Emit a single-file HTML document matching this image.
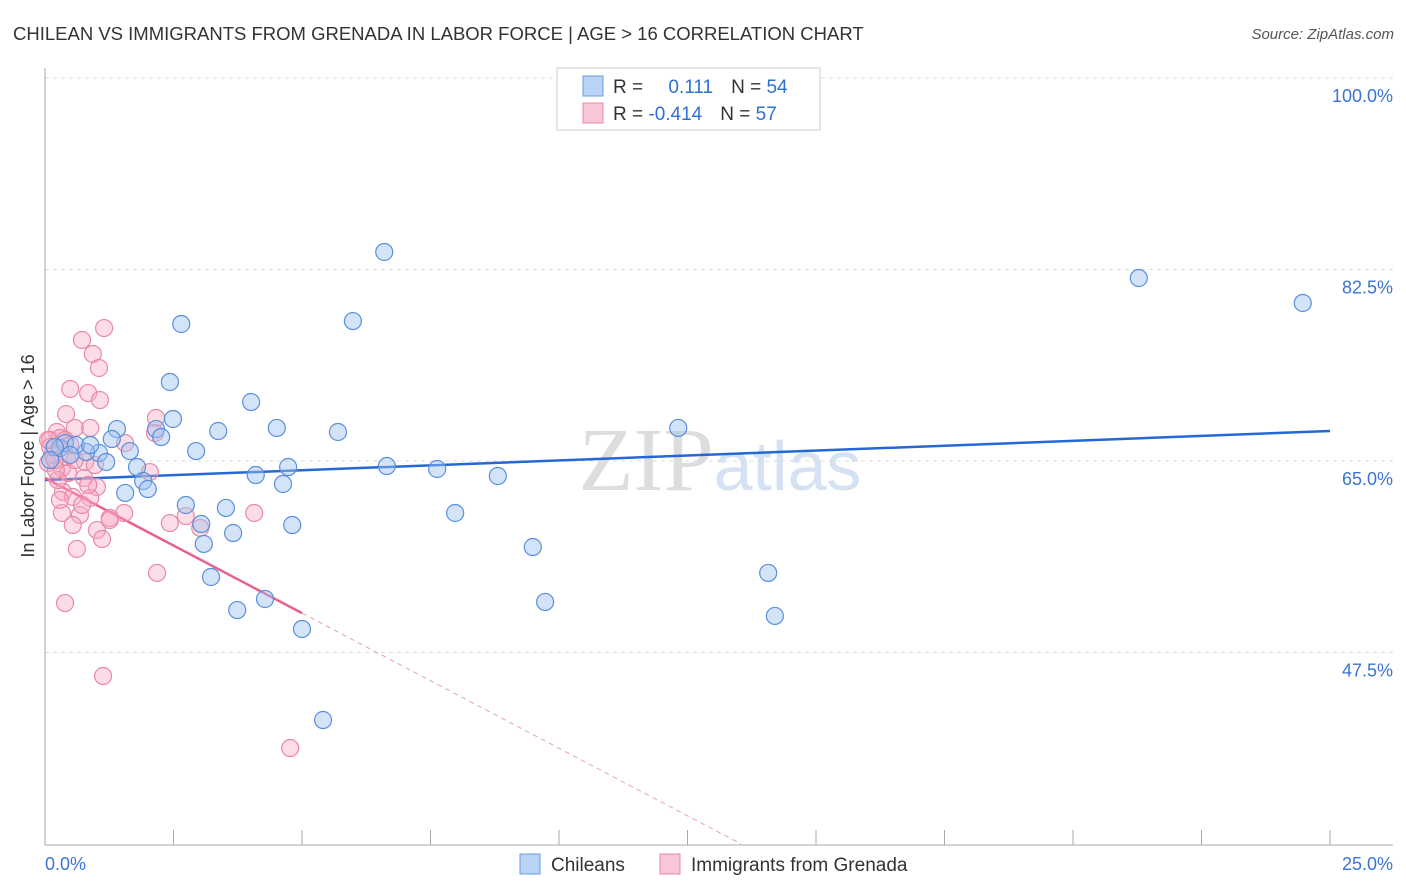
<!DOCTYPE html>
<html><head><meta charset="utf-8"><style>
body{margin:0;background:#fff;font-family:"Liberation Sans",sans-serif}
svg{display:block}
</style></head><body>
<svg id="chart" width="1406" height="892" xmlns="http://www.w3.org/2000/svg" font-family="Liberation Sans, sans-serif">
<text x="13" y="40" font-size="18.5" fill="#333">CHILEAN VS IMMIGRANTS FROM GRENADA IN LABOR FORCE | AGE &gt; 16 CORRELATION CHART</text>
<text x="1394" y="39" font-size="15" fill="#555" text-anchor="end" font-style="italic">Source: ZipAtlas.com</text>
<text x="720" y="490" font-size="90" fill="#ddd" text-anchor="middle" font-family="Liberation Serif, serif">ZIP<tspan fill="#d4e2f4" font-family="Liberation Sans, sans-serif" font-size="70">atlas</tspan></text>
<g id="grid"></g>
<g id="axes"></g>
<g id="lines"></g>
<g id="pts"></g>
<text transform="translate(34,456) rotate(-90)" font-size="18" fill="#333" text-anchor="middle">In Labor Force | Age &gt; 16</text>
<g>
<rect x="557" y="68" width="263" height="62" fill="#fff" stroke="#ccc"/>
<rect x="583" y="76" width="20" height="20" fill="#b9d3f5" stroke="#6a9be0"/>
<rect x="583" y="103" width="20" height="20" fill="#f9c6d5" stroke="#e88aa6"/>
<text x="613" y="93" font-size="19" fill="#333">R = <tspan fill="#2f6fd6" dx="20">0.111</tspan><tspan dx="18" fill="#333">N = </tspan><tspan fill="#2f6fd6">54</tspan></text>
<text x="613" y="120" font-size="19" fill="#333">R = <tspan fill="#2f6fd6">-0.414</tspan><tspan dx="18" fill="#333">N = </tspan><tspan fill="#2f6fd6">57</tspan></text>
</g>
<g>
<rect x="520" y="854" width="20" height="20" fill="#b9d3f5" stroke="#6a9be0"/>
<text x="551" y="871" font-size="19" fill="#333">Chileans</text>
<rect x="660" y="854" width="20" height="20" fill="#f9c6d5" stroke="#e88aa6"/>
<text x="691" y="871" font-size="19" fill="#333">Immigrants from Grenada</text>
</g>
</svg>
<script>
const yTicks=[47.5,65.0,82.5,100.0];
const xTickLabels=["0.0%","25.0%"];
const blueX=[6.60,21.28,24.47,2.65,5.99,2.43,4.01,2.49,1.40,2.16,3.37,4.51,5.70,12.32,1.30,2.26,1.65,2.94,1.05,0.80,0.29,0.39,0.60,1.19,1.79,6.65,4.73,7.63,8.81,4.10,1.91,4.63,2.00,1.56,2.74,3.52,3.04,4.81,3.66,7.98,3.09,9.49,3.23,14.07,4.28,9.73,3.74,14.20,5.00,5.41,0.19,0.49,0.10,0.88];
const blueY=[84.10,81.72,79.44,77.52,77.79,72.22,70.39,68.84,67.92,67.92,67.74,68.02,67.65,68.02,67.01,67.19,65.91,65.91,65.73,65.82,66.19,66.64,66.46,64.91,64.45,64.54,64.45,64.27,63.63,63.72,63.17,62.90,62.44,62.08,60.98,60.71,59.24,59.15,58.42,60.25,57.42,57.14,54.40,54.77,52.39,52.12,51.38,50.84,49.65,41.33,66.28,65.55,65.09,66.46];
const pinkX=[1.15,0.72,0.93,1.05,0.49,0.84,1.07,0.41,2.16,0.58,0.88,2.14,1.56,0.23,0.10,0.14,0.06,0.33,0.45,2.04,0.76,1.01,0.35,0.88,0.54,1.54,0.33,0.68,1.26,1.01,0.54,2.43,3.02,2.74,4.07,1.11,0.62,2.18,0.39,1.13,4.77,1.26,0.25,0.21,0.29,0.10,0.43,0.78,0.97,0.29,0.58,0.84,0.72,0.19,0.06,0.39,0.49];
const pinkY=[77.15,76.06,74.78,73.50,71.58,71.21,70.57,69.29,68.93,68.02,68.02,67.56,66.64,67.65,66.92,65.55,64.82,64.36,63.90,63.99,63.45,62.62,62.17,61.62,61.71,60.25,60.25,60.07,59.79,58.69,59.15,59.33,58.88,59.97,60.25,57.87,56.96,54.77,52.02,45.35,38.77,59.61,63.26,64.18,67.10,66.28,65.37,64.91,64.63,61.44,65.09,62.81,60.98,65.09,66.92,66.92,66.46];
const blueTrend=[63.26,67.74];
const pinkTrend=[63.45,-2.47];
const NS="http://www.w3.org/2000/svg";
const sx=v=>45+v/25*1285;
const sy=v=>461-(v-65)/17.5*191.5;
function mk(t,a,p){const e=document.createElementNS(NS,t);for(const k in a)e.setAttribute(k,a[k]);p.appendChild(e);return e;}
const grid=document.getElementById('grid'),axes=document.getElementById('axes'),lines=document.getElementById('lines'),pts=document.getElementById('pts');
yTicks.forEach(t=>{
 const l=mk('line',{x1:45,x2:1393,y1:sy(t),y2:sy(t),stroke:'#ddd','stroke-dasharray':'4,4'},grid);
 
 
 const tx=mk('text',{x:1393,y:sy(t)+24,'font-size':18,fill:'#3a74d4','text-anchor':'end'},grid);
 tx.textContent=t.toFixed(1)+'%';
 
 
});
mk('line',{x1:45,x2:45,y1:68,y2:845,stroke:'#aaa'},axes);
mk('line',{x1:45,x2:1393,y1:845,y2:845,stroke:'#aaa'},axes);
for(let i=0;i<=10;i++){mk('line',{x1:sx(i*2.5),x2:sx(i*2.5),y1:830,y2:845,stroke:'#aaa'},axes);}
const xl0=mk('text',{x:45,y:870,'font-size':18,fill:'#3a74d4'},axes);xl0.textContent=xTickLabels[0];


const xl1=mk('text',{x:1393,y:870,'font-size':18,fill:'#3a74d4','text-anchor':'end'},axes);xl1.textContent=xTickLabels[1];


pinkX.forEach((x,i)=>{const c=mk('circle',{cx:sx(x),cy:sy(pinkY[i]),r:8.5,fill:'rgba(247,170,195,0.4)',stroke:'#e88aa6','stroke-width':1.2},pts);
 
 });
blueX.forEach((x,i)=>{const c=mk('circle',{cx:sx(x),cy:sy(blueY[i]),r:8.5,fill:'rgba(160,195,240,0.45)',stroke:'#5b8fdc','stroke-width':1.2},pts);
 
 });
const bl=mk('line',{x1:sx(0),y1:sy(blueTrend[0]),x2:sx(25),y2:sy(blueTrend[1]),stroke:'#2468d4','stroke-width':2.5},lines);


const pf=x=>pinkTrend[0]+pinkTrend[1]*x;
const pl=mk('line',{x1:sx(0),y1:sy(pf(0)),x2:sx(5),y2:sy(pf(5)),stroke:'#e8608c','stroke-width':2.5},lines);


const xe=(30-pinkTrend[0])/pinkTrend[1];
const pd=mk('line',{x1:sx(5),y1:sy(pf(5)),x2:sx(xe),y2:sy(30),stroke:'#e8a0b8','stroke-width':1,'stroke-dasharray':'5,4'},lines);


</script>
</body></html>
